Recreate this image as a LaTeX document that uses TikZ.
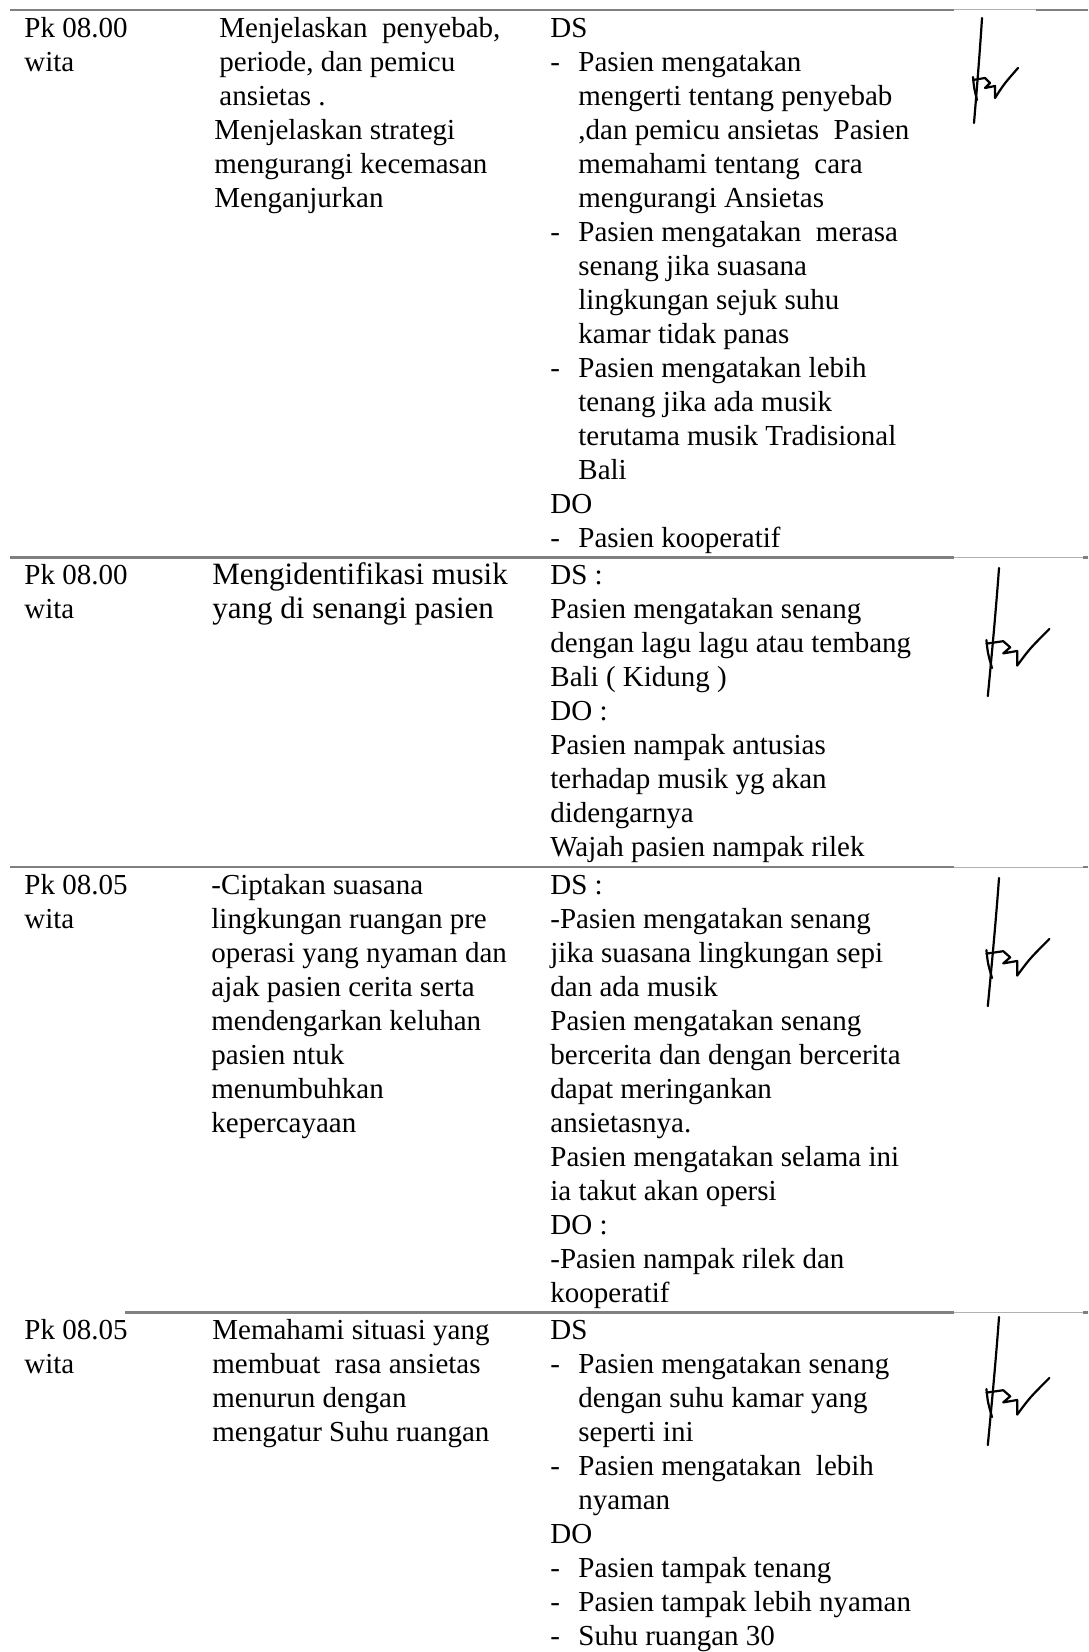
\documentclass[tikz,border=0pt]{standalone}
\usepackage{fontspec}
\setmainfont{Liberation Serif}
\newcommand{\bul}{\makebox[14pt][l]{-}}
\newcommand{\ind}{\hspace*{14pt}}
\tikzset{
  cell/.style={anchor=north west, inner sep=0pt, align=left,
    font=\fontsize{14.5}{17}\selectfont},
  bigcell/.style={cell, font=\fontsize{15.5}{17}\selectfont},
  rowline/.style={draw=black!50, line width=1.35pt},
  thinline/.style={draw=black!30, line width=0.5pt},
  sign/.style={line width=1.1pt, line cap=round, line join=round},
  paraf/.pic={
    \draw[sign] (0,0) .. controls (-2,32) and (-5,69) .. (-8,105);
    \draw[sign] (-9,59) .. controls (-8,70) .. (-5,82);
    \draw[sign] (-9,62) -- (3,60) -- (8,65) -- (3,70) -- (13,68) -- (13,80)
      .. controls (22,66) .. (36,50);
  }
}
\begin{document}
\begin{tikzpicture}[x=0.5pt, y=-0.5pt]
  \useasboundingbox (0,0) rectangle (1088,1652);

  % garis antar baris
  \foreach \y/\a/\b in {10/10/1036, 557.5/10/1083, 867/10/1083, 1312.5/125/1083} {
    \draw[rowline] (\a,\y) -- (954,\y);
    \draw[thinline] (954,\y) -- (\b,\y);
    \draw[rowline] (\b,\y) -- (1088,\y);
  }

  % baris 1
  \node[cell] (time1) at (24,13.2) {\strut Pk 08.00\\wita};
  \node[cell] (act1) at (214,13.2) {\strut\hspace*{2.5pt}Menjelaskan\ \ penyebab,\\
    \hspace*{2.5pt}periode, dan pemicu\\\hspace*{2.5pt}ansietas .\\
    Menjelaskan strategi\\mengurangi kecemasan\\Menganjurkan};
  \node[cell] (resp1) at (550,13.2) {\strut DS\\
    \bul Pasien mengatakan\\\ind mengerti tentang penyebab\\
    \ind ,dan pemicu ansietas\ \ Pasien\\\ind memahami tentang\ \ cara\\
    \ind mengurangi Ansietas\\
    \bul Pasien mengatakan\ \ merasa\\\ind senang jika suasana\\
    \ind lingkungan sejuk suhu\\\ind kamar tidak panas\\
    \bul Pasien mengatakan lebih\\\ind tenang jika ada musik\\
    \ind terutama musik Tradisional\\\ind Bali\\
    DO\\\bul Pasien kooperatif};
  \pic (sig1) at (982,18) {paraf};

  % baris 2
  \node[cell] (time2) at (24,560.7) {\strut Pk 08.00\\wita};
  \node[bigcell] (act2) at (212,560.7) {\strut Mengidentifikasi musik\\yang di senangi pasien};
  \node[cell] (resp2) at (550,560.7) {\strut DS :\\Pasien mengatakan senang\\
    dengan lagu lagu atau tembang\\Bali ( Kidung )\\DO :\\
    Pasien nampak antusias\\terhadap musik yg akan\\didengarnya\\
    Wajah pasien nampak rilek};
  \pic[xscale=1.4, yscale=1.22] (sig2) at (999,568) {paraf};

  % baris 3
  \node[cell] (time3) at (24,870.2) {\strut Pk 08.05\\wita};
  \node[cell] (act3) at (211,870.2) {\strut -Ciptakan suasana\\
    lingkungan ruangan pre\\operasi yang nyaman dan\\
    ajak pasien cerita serta\\mendengarkan keluhan\\
    pasien ntuk\\menumbuhkan\\kepercayaan};
  \node[cell] (resp3) at (550,870.2) {\strut DS :\\
    -Pasien mengatakan senang\\jika suasana lingkungan sepi\\dan ada musik\\
    Pasien mengatakan senang\\bercerita dan dengan bercerita\\
    dapat meringankan\\ansietasnya.\\
    Pasien mengatakan selama ini\\ia takut akan opersi\\
    DO :\\-Pasien nampak rilek dan\\kooperatif};
  \pic[xscale=1.4, yscale=1.22] (sig3) at (999,878) {paraf};

  % baris 4
  \node[cell] (time4) at (24,1315.7) {\strut Pk 08.05\\wita};
  \node[cell] (act4) at (212,1315.7) {\strut Memahami situasi yang\\
    membuat\ \ rasa ansietas\\menurun dengan\\mengatur Suhu ruangan};
  \node[cell] (resp4) at (550,1315.7) {\strut DS\\
    \bul Pasien mengatakan senang\\\ind dengan suhu kamar yang\\\ind seperti ini\\
    \bul Pasien mengatakan\ \ lebih\\\ind nyaman\\
    DO\\\bul Pasien tampak tenang\\\bul Pasien tampak lebih nyaman\\
    \bul Suhu ruangan 30};
  \pic[xscale=1.4, yscale=1.22] (sig4) at (999,1317) {paraf};
\end{tikzpicture}
\end{document}
